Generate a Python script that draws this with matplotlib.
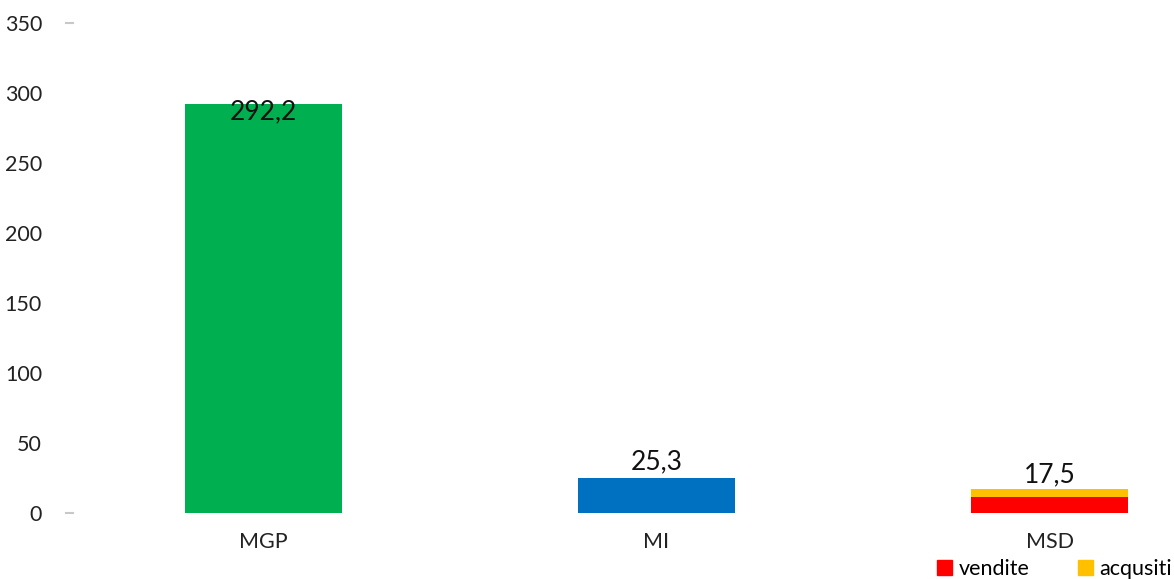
import matplotlib
matplotlib.use("Agg")
import matplotlib.pyplot as plt
from matplotlib.patches import Patch
import matplotlib.transforms as mtransforms

categories = ["MGP", "MI", "MSD"]
mgp_value = [292.2]
mi_value = [25.3]
msd_vendite = [11.4]
msd_acquisti = [6.1]
totals = [292.2, 25.3, 17.5]
value_labels = ["292,2", "25,3", "17,5"]
yticks = [0, 50, 100, 150, 200, 250, 300, 350]

plt.rcParams["font.family"] = ["Lato", "DejaVu Sans"]

fig = plt.figure(figsize=(11.74, 5.79), dpi=100)
ax = fig.add_axes([67 / 1174, 66 / 579, 1179 / 1174, 490 / 579])

width = 0.40
ax.bar([0], mgp_value, width=width, color="#00B050")
ax.bar([1], mi_value, width=width, color="#0070C0")
ax.bar([2], msd_vendite, width=width, color="#FF0000")
ax.bar([2], msd_acquisti, bottom=msd_vendite, width=width, color="#FFC000")

offsets = [-15, 2, 1]
for i, (v, lab, off) in enumerate(zip(totals, value_labels, offsets)):
    ax.annotate(lab, (i, v), xytext=(0, off), textcoords="offset points",
                ha="center", va="bottom", fontsize=19, color="#111111")

ax.set_xlim(-0.5, 2.5)
ax.set_ylim(0, 350)
ax.set_yticks(yticks)
ax.set_xticks(range(len(categories)))
ax.set_xticklabels(categories)
ax.tick_params(axis="both", length=0, labelsize=15.5, colors="#222222")
ax.tick_params(axis="y", pad=18)
ax.tick_params(axis="x", pad=14)
for s in ax.spines.values():
    s.set_visible(False)

# short gray marks at the ends of the value axis
trans = mtransforms.blended_transform_factory(ax.transAxes, ax.transData)
for y in (0, 350):
    ax.plot([-0.0005, 0.005], [y, y], color="#C8C8C8", lw=1.5,
            transform=trans, clip_on=False)

handles = [Patch(color="#FF0000", label="vendite"),
           Patch(color="#FFC000", label="acqusiti")]
fig.legend(handles=handles, loc="lower left", bbox_to_anchor=(918 / 1174, -19 / 579),
           ncol=2, frameon=False, fontsize=15.5, handlelength=0.7, handleheight=0.7,
           handletextpad=0.3, columnspacing=2.25)

fig.savefig("out.png", dpi=100)
